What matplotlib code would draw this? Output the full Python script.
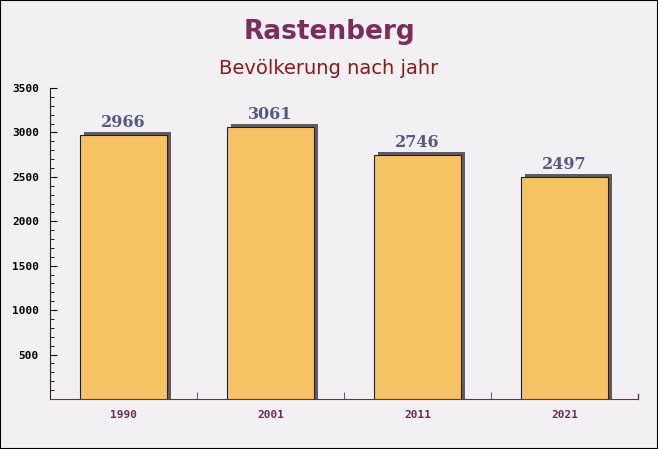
import numpy as np
import matplotlib.pyplot as plt
from matplotlib.patches import Rectangle
from matplotlib.ticker import MultipleLocator
import matplotlib.transforms as mtransforms

years = ['1990', '2001', '2011', '2021']
population = [2966, 3061, 2746, 2497]

fig = plt.figure(figsize=(6.58, 4.49), dpi=100)
fig.patch.set_facecolor('#f3f0f3')
ax = fig.add_axes([50 / 658, 1 - 399 / 449, 588 / 658, 311 / 449])
ax.set_facecolor('none')

x = np.arange(len(years))
w = 0.59
# shadow behind bars, shifted right/up a few pixels, reaching down to the baseline
shift = mtransforms.offset_copy(ax.transData, fig=fig, x=4, y=3, units='dots')
pad = 3500 / 311 * 3
ax.bar(x, np.array(population) + pad, width=w, bottom=-pad, color='#5e5a66',
       transform=shift, zorder=2)
ax.bar(x, population, width=w, color='#f7c263', edgecolor='#222222',
       linewidth=0.8, zorder=3)

for xi, v in zip(x, population):
    ax.annotate(str(v), (xi, v), xytext=(0, 3), textcoords='offset points',
                ha='center', va='bottom', fontsize=11.5, fontweight='bold',
                family='DejaVu Serif', color='#555a85', zorder=4)

ax.set_xlim(-0.5, len(years) - 0.5)
ax.set_ylim(0, 3500)
ax.yaxis.set_major_locator(MultipleLocator(500))
ax.yaxis.set_minor_locator(MultipleLocator(100))
ax.set_yticks([500, 1000, 1500, 2000, 2500, 3000, 3500])
ax.set_xticks(x)
ax.set_xticklabels(years)
ax.set_xticks(x[:-1] + 0.5, minor=True)
ax.tick_params(axis='x', which='major', length=0, pad=8, labelsize=8,
               labelcolor='#6b2d5a')
ax.tick_params(axis='x', which='minor', direction='in', length=5, color='#6b2d5a')
ax.tick_params(axis='y', which='major', direction='in', length=5, labelsize=8, pad=8)
ax.tick_params(axis='y', which='minor', direction='in', length=3)
for lab in ax.get_xticklabels() + ax.get_yticklabels():
    lab.set_family('DejaVu Sans Mono')
    lab.set_fontweight('bold')

ax.spines['top'].set_visible(False)
ax.spines['right'].set_visible(False)
ax.spines['bottom'].set_color('#6b2d5a')
ax.spines['left'].set_color('#222222')
ax.plot([1, 1], [0, 0.016], transform=ax.transAxes, color='#6b2d5a', lw=1, clip_on=False)

fig.text(0.5, 1 - 32 / 449, 'Rastenberg', ha='center', va='center', fontsize=19,
         fontweight='bold', color='#7b2d5b')
fig.text(0.5, 1 - 68 / 449, 'Bevölkerung nach jahr', ha='center', va='center',
         fontsize=14, color='#8b1a1a')

fig.patches.append(Rectangle((0, 0), 1, 1, transform=fig.transFigure, fill=False,
                             edgecolor='black', linewidth=1.5))

fig.savefig('out.png', dpi=100, facecolor=fig.get_facecolor())
